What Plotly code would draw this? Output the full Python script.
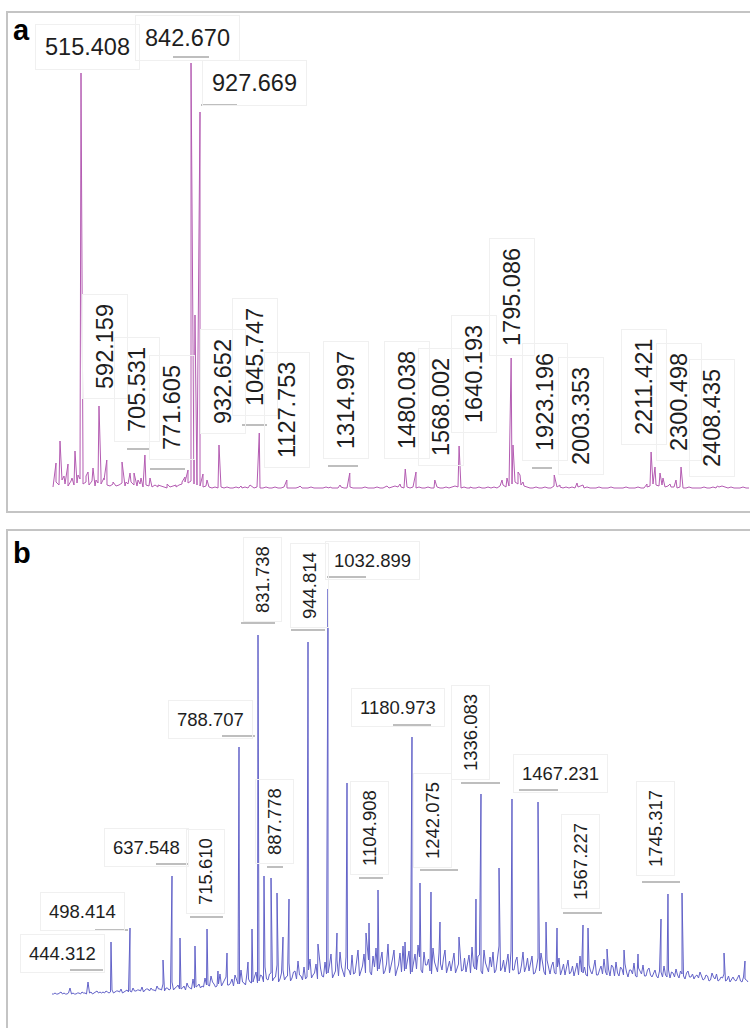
import plotly.graph_objects as go

W, H = 750, 1028

# ---------------- Panel a (pink spectrum) ----------------
a_peak_mz = [438.0, 441.0, 452.9, 464.8, 476.7, 488.6, 497.5, 506.5, 515.408, 521.3,
             530.3, 536.2, 551.1, 560.0, 568.9, 574.9, 583.8, 592.159, 610.6, 637.4,
             649.3, 661.2, 673.1, 685.0, 693.9, 705.531, 720.7, 744.5, 771.605, 798.0,
             815.9, 824.8, 833.7, 842.670, 854.5, 860.5, 869.4, 878.3, 890.2, 925.9,
             991.4, 1018.2, 1045.747, 1127.753, 1166.9, 1256.2, 1285.9, 1314.997, 1425.7, 1464.4,
             1480.038, 1512.0, 1568.002, 1640.193, 1672.7, 1767.9, 1782.7, 1795.086, 1800.6, 1815.5,
             1821.4, 1830.3, 1923.196, 1940.4, 1991.0, 2008.8, 2092.1, 2199.2, 2211.421, 2223.0,
             2237.9, 2246.8, 2267.7, 2285.5, 2300.498, 2408.435, 2422.4]
a_peak_int = [20, 27, 49, 14, 26, 12, 39, 15, 417, 25,
              14, 18, 22, 10, 84, 15, 12, 30, 8, 28,
              8, 17, 17, 10, 12, 35, 12, 5, 6, 5,
              8, 13, 20, 427, 175, 18, 378, 16, 10, 45,
              4, 5, 57, 10, 4, 3, 5, 17, 4, 6,
              21, 18, 10, 44, 3, 10, 12, 132, 45, 18,
              15, 8, 15, 5, 7, 5, 3, 6, 38, 23,
              17, 12, 6, 10, 23, 4, 4]
a_noise_start = 432.1
a_noise_step = 8.925
a_noise = [3, 8, 5, 10, 6, 4, 9, 5, 7, 11, 6, 8, 5, 9, 4, 7, 6, 10, 5, 4,
           6, 4, 5, 7, 4, 6, 8, 5, 4, 6, 3, 5, 4, 3, 5, 3, 4, 3, 2, 3,
           4, 3, 5, 6, 8, 7, 9, 6, 5, 4, 3, 4, 3, 2, 3, 2, 3, 2, 3, 2,
           2, 3, 2, 2, 3, 2, 4, 2, 3, 2, 2, 3, 2, 2, 3, 2, 2, 3, 2, 2,
           2, 2, 3, 2, 2, 2, 3, 2, 2, 2, 2, 3, 2, 2, 2, 2, 3, 2, 2, 3,
           2, 2, 2, 2, 3, 2, 2, 2, 3, 2, 2, 3, 2, 3, 4, 3, 3, 2, 3, 2,
           3, 2, 3, 2, 2, 3, 2, 2, 3, 2, 2, 3, 2, 3, 4, 3, 2, 3, 2, 2,
           2, 2, 3, 2, 2, 3, 2, 3, 2, 4, 5, 3, 4, 6, 8, 6, 5, 4, 3, 2,
           2, 3, 2, 2, 3, 2, 2, 4, 3, 3, 2, 3, 2, 3, 2, 3, 4, 2, 3, 2,
           2, 2, 3, 2, 2, 2, 3, 2, 2, 2, 2, 3, 2, 2, 2, 3, 2, 2, 3, 4,
           6, 5, 4, 5, 3, 4, 3, 3, 2, 3, 2, 2, 3, 2, 2, 2, 2, 3, 2, 2,
           3, 2, 3, 4, 3, 2, 3, 2, 2, 2, 3, 2, 2]

# ---------------- Panel b (blue spectrum) ----------------
b_peak_mz = [444.312, 488.7, 565.8, 586.8, 605.5, 640.5, 668.6, 694.2, 715.3, 743.3,
             764.3, 773.7, 787.7, 801.7, 818.1, 832.1, 846.1, 860.1, 904.5, 927.8,
             951.2, 972.2, 995.6, 1040.0, 1047.0, 1068.0, 1131.1, 1147.4, 1166.1, 1191.8,
             1212.8, 1257.2, 1296.9, 1308.6, 1350.7, 1381.0, 1441.8, 1460.5, 1486.2, 1546.9,
             1558.6, 1603.0, 1642.7, 1675.4, 1729.1, 1745.4, 1778.2, 1876.3, 1925.3]
b_peak_int = [58, 72, 40, 124, 62, 54, 71, 29, 47, 253,
              38, 71, 365, 124, 122, 107, 63, 101, 358, 56,
              411, 67, 217, 67, 77, 110, 58, 263, 117, 108,
              78, 63, 101, 206, 132, 201, 198, 78, 72, 75,
              72, 51, 50, 46, 81, 106, 107, 47, 39]
b_noise_start = 306.5
b_noise_step = 7.008
b_noise = [6, 7, 6, 8, 7, 6, 12, 7, 6, 7, 8, 7, 18, 8, 7, 9, 8,
           8, 9, 7, 10, 8, 9, 11, 8, 10, 9, 12, 9, 10, 13, 10, 11, 12,
           10, 14, 11, 16, 12, 10, 18, 12, 15, 11, 14, 17, 12, 21, 13, 16,
           14, 22, 15, 24, 16, 14, 26, 17, 23, 15, 21, 25, 16, 30, 17, 27, 18,
           18, 28, 19, 24, 33, 20, 27, 22, 35, 21, 30, 23, 37, 22, 29, 39, 24,
           33, 23, 41, 25, 36, 44, 24, 38, 27, 46, 25, 40, 48, 28, 43, 30,
           45, 27, 50, 30, 46, 53, 28, 44, 52, 31, 48, 29, 56, 33, 50, 30, 47,
           54, 31, 49, 28, 46, 55, 30, 48, 35, 29, 52, 33, 47, 30, 50, 34,
           29, 47, 33, 51, 30, 28, 45, 53, 31, 44, 29, 50, 32, 43, 48, 30, 54,
           32, 28, 46, 49, 30, 43, 27, 48, 33, 29, 44, 27, 42, 47, 28, 40, 26,
           38, 26, 42, 30, 25, 40, 28, 24, 37, 44, 27, 25, 35, 26, 40, 25, 34,
           41, 25, 24, 33, 38, 24, 31, 36, 23, 30, 37, 23, 29, 35, 24, 32,
           23, 30, 22, 28, 34, 23, 22, 27, 31, 22, 26, 21, 29, 23, 21, 25, 28,
           20, 25, 19, 27, 21, 19, 23, 26, 20, 18, 23, 19, 25, 18, 21, 18]
# second set of noise readings, half a step after each of the ones above
b_noise_mid = [6, 6, 7, 6, 6, 7, 6, 6, 7, 6, 7, 6, 7, 6, 8, 7, 7,
               7, 8, 8, 7, 9, 8, 7, 9, 8, 8, 9, 10, 9, 8, 11, 9, 10,
               9, 11, 10, 9, 12, 11, 10, 13, 11, 12, 10, 13, 11, 12, 14, 12,
               13, 15, 14, 18, 13, 16, 14, 19, 15, 17, 14, 20, 16, 18, 15, 21, 17,
               22, 17, 25, 18, 21, 26, 19, 23, 18, 27, 20, 24, 19, 28, 21, 25, 20,
               21, 30, 22, 27, 21, 32, 23, 26, 35, 22, 29, 24, 33, 23, 31, 25,
               26, 38, 24, 34, 27, 40, 25, 33, 29, 42, 26, 36, 27, 41, 24, 35, 28,
               29, 40, 26, 37, 31, 43, 27, 35, 41, 26, 38, 28, 36, 42, 27, 39,
               40, 27, 36, 29, 42, 38, 27, 34, 30, 45, 26, 37, 28, 33, 27, 41, 29,
               40, 36, 27, 30, 39, 26, 35, 28, 42, 37, 26, 33, 29, 38, 25, 31, 34,
               27, 33, 25, 36, 31, 26, 34, 30, 25, 28, 33, 24, 29, 32, 25, 30, 26,
               28, 31, 35, 24, 27, 33, 25, 28, 30, 26, 24, 32, 26, 24, 30, 25,
               27, 24, 29, 23, 25, 30, 28, 23, 25, 29, 24, 27, 23, 26, 24, 22,
               23, 21, 24, 20, 23, 26, 20, 22, 19, 24, 21, 20, 22, 19, 23, 20]

a_labels = ["515.408", "842.670", "927.669", "592.159", "705.531", "771.605", "932.652",
            "1045.747", "1127.753", "1314.997", "1480.038", "1568.002", "1640.193",
            "1795.086", "1923.196", "2003.353", "2211.421", "2300.498", "2408.435"]
b_labels = ["444.312", "498.414", "637.548", "715.610", "788.707", "831.738", "944.814",
            "1032.899", "887.778", "1104.908", "1180.973", "1242.075", "1336.083",
            "1467.231", "1567.227", "1745.317"]


def grid_points(start, step, values):
    return [(start + i * step, v) for i, v in enumerate(values)]


def build(noise_pts, pk_mz, pk_int):
    pts = noise_pts + list(zip(pk_mz, pk_int))
    pts.sort()
    return [p[0] for p in pts], [p[1] for p in pts]


ax, ay = build(grid_points(a_noise_start, a_noise_step, a_noise), a_peak_mz, a_peak_int)
bx, by = build(grid_points(b_noise_start, b_noise_step, b_noise)
               + grid_points(b_noise_start + b_noise_step / 2, b_noise_step, b_noise_mid),
               b_peak_mz, b_peak_int)

fig = go.Figure()
fig.add_trace(go.Scatter(x=ax, y=ay, mode="lines", line=dict(color="#b45cb2", width=1),
                         xaxis="x", yaxis="y", hoverinfo="skip", showlegend=False))
fig.add_trace(go.Scatter(x=bx, y=by, mode="lines", line=dict(color="#6262c8", width=1),
                         xaxis="x2", yaxis="y2", hoverinfo="skip", showlegend=False))


# ---------------- layout helpers (page pixels -> paper) ----------------
def px(x):
    return x / W


def py(y):
    return 1 - y / H


FONT = "Liberation Sans, Arial, sans-serif"

# label layout: (center_x, center_y, angle) in page pixels
a_label_pos = [(87, 47, 0), (187, 38, 0), (254, 83, 0), (105, 347, -90), (137, 390, -90),
               (172, 408, -90), (223, 382, -90), (255, 357, -90), (287, 410, -90),
               (346, 400, -90), (407, 400, -90), (441, 407, -90), (474, 374, -90),
               (512, 297, -90), (545, 402, -90), (581, 416, -90), (644, 387, -90),
               (679, 402, -90), (712, 418, -90)]
b_label_pos = [(62, 953, 0), (82, 911, 0), (146, 847, 0), (205, 872, -90), (210, 719, 0),
               (262, 580, -90), (309, 586, -90), (372, 560, 0), (274, 822, -90),
               (369, 828, -90), (398, 707, 0), (432, 820, -90), (470, 733, -90),
               (560, 773, 0), (580, 862, -90), (655, 829, -90)]

annotations = []
for (cx, cy, ang), t in zip(a_label_pos, a_labels):
    annotations.append(dict(x=px(cx), y=py(cy), xref="paper", yref="paper", text=t,
                            textangle=ang, showarrow=False, xanchor="center", yanchor="middle",
                            font=dict(family=FONT, size=23.5, color="#1e1e1e"),
                            bordercolor="#f0f0f0", borderwidth=1, borderpad=9))
for (cx, cy, ang), t in zip(b_label_pos, b_labels):
    annotations.append(dict(x=px(cx), y=py(cy), xref="paper", yref="paper", text=t,
                            textangle=ang, showarrow=False, xanchor="center", yanchor="middle",
                            font=dict(family=FONT, size=18.5, color="#1e1e1e"),
                            bordercolor="#f0f0f0", borderwidth=1, borderpad=8))
annotations.append(dict(x=px(21), y=py(30), xref="paper", yref="paper", text="<b>a</b>",
                        showarrow=False, xanchor="center", yanchor="middle",
                        font=dict(family=FONT, size=29, color="#000000")))
annotations.append(dict(x=px(22), y=py(553), xref="paper", yref="paper", text="<b>b</b>",
                        showarrow=False, xanchor="center", yanchor="middle",
                        font=dict(family=FONT, size=29, color="#000000")))

shapes = [
    dict(type="rect", xref="paper", yref="paper", x0=px(7), x1=1.02, y0=py(512), y1=py(12),
         line=dict(color="#c4c4c4", width=2)),
    dict(type="rect", xref="paper", yref="paper", x0=px(7), x1=1.02, y0=-0.02, y1=py(530),
         line=dict(color="#c4c4c4", width=2)),
]
leaders = [(173, 209, 57), (201, 237, 105), (127, 150, 449), (150, 185, 469), (242, 267, 425),
           (328, 358, 466), (532, 552, 468),
           (70, 103, 970), (95, 128, 930), (156, 189, 864), (190, 223, 917), (222, 255, 736),
           (241, 275, 623), (291, 325, 630), (327, 366, 577), (267, 283, 867), (359, 383, 878),
           (393, 431, 725), (420, 458, 870), (461, 500, 783), (519, 558, 790), (563, 602, 913),
           (642, 680, 882)]
for x0, x1, yy in leaders:
    shapes.append(dict(type="line", xref="paper", yref="paper", x0=px(x0), x1=px(x1),
                       y0=py(yy), y1=py(yy), line=dict(color="#a8a8a8", width=1.5)))

fig.update_layout(
    width=W, height=H, margin=dict(l=0, r=0, t=0, b=0),
    paper_bgcolor="white", plot_bgcolor="white",
    xaxis=dict(domain=[0, 1], range=[274.4, 2505.65], visible=False, anchor="y"),
    yaxis=dict(domain=[py(512), py(12)], range=[-22, 478], visible=False, anchor="x"),
    xaxis2=dict(domain=[0, 1], range=[185, 1937], visible=False, anchor="y2"),
    yaxis2=dict(domain=[0, py(530)], range=[-28, 470], visible=False, anchor="x2"),
    annotations=annotations, shapes=shapes,
)

fig.write_html("out.html", config={"displayModeBar": False},
               post_script="document.body.style.margin='0';")
